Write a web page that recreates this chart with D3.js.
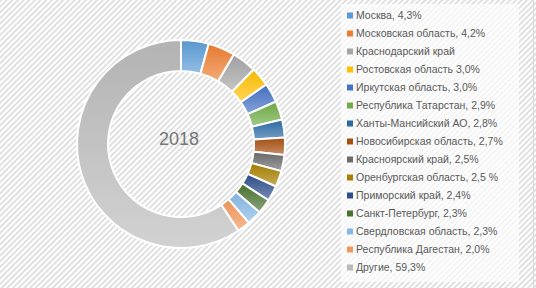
<!DOCTYPE html>
<html>
<head>
<meta charset="utf-8">
<script src="https://cdn.jsdelivr.net/npm/d3@7"></script>
<style>
  body { margin: 0; background: #fff; }
</style>
</head>
<body>
<div id="chart"></div>
<script>
const regions = ["Москва", "Московская область", "Краснодарский край", "Ростовская область",
  "Иркутская область", "Республика Татарстан", "Ханты-Мансийский АО", "Новосибирская область",
  "Красноярский край", "Оренбургская область", "Приморский край", "Санкт-Петербург",
  "Свердловская область", "Республика Дагестан", "Другие"];
const shares = [4.3, 4.2, 3.8, 3.0, 3.0, 2.9, 2.8, 2.7, 2.5, 2.5, 2.4, 2.3, 2.3, 2.0, 59.3];
// legend text as printed in the source (its punctuation is not uniform)
const legendLabels = ["Москва, 4,3%", "Московская область, 4,2%", "Краснодарский край",
  "Ростовская область 3,0%", "Иркутская область, 3,0%", "Республика Татарстан, 2,9%",
  "Ханты-Мансийский АО, 2,8%", "Новосибирская область, 2,7%", "Красноярский край, 2,5%",
  "Оренбургская область, 2,5 %", "Приморский край, 2,4%", "Санкт-Петербург, 2,3%",
  "Свердловская область, 2,3%", "Республика Дагестан, 2,0%", "Другие, 59,3%"];
const colors = ["#5b9bd5", "#ed7d31", "#a5a5a5", "#ffc000", "#4472c4", "#70ad47", "#2a6aa6",
  "#a94f12", "#6b6b6b", "#a87f00", "#2d4f8c", "#4a7330", "#86b8e4", "#f1975a", "#b9b9b9"];
const year = "2018";

const width = 536, height = 288;
const cx = 181, cy = 144, outerRadius = 104, innerRadius = 73;

const data = regions.map((r, i) => ({ region: r, value: shares[i], label: legendLabels[i] }));

const svg = d3.select("#chart").append("svg")
  .attr("width", width)
  .attr("height", height)
  .style("font-family", "'Liberation Sans', Arial, sans-serif");

const defs = svg.append("defs");

// hatched background
const pat = defs.append("pattern")
  .attr("id", "hatch")
  .attr("patternUnits", "userSpaceOnUse")
  .attr("width", 4).attr("height", 4)
  .attr("patternTransform", "rotate(45)");
pat.append("rect").attr("width", 4).attr("height", 4).attr("fill", "#ffffff");
pat.append("rect").attr("width", 1.6).attr("height", 4).attr("fill", "#d9d9d9");

// vertical gradient for every slice
defs.selectAll("linearGradient")
  .data(colors)
  .join("linearGradient")
  .attr("id", (d, i) => "g" + i)
  .attr("x1", 0).attr("y1", 0).attr("x2", 0).attr("y2", 1)
  .selectAll("stop")
  .data(c => [[0, d3.color(c).darker(0.1)], [1, d3.interpolateRgb(c, "#fff")(0.35)]])
  .join("stop")
  .attr("offset", d => d[0])
  .attr("stop-color", d => d[1]);

svg.append("rect")
  .attr("width", width).attr("height", height)
  .attr("fill", "url(#hatch)");

svg.append("line")
  .attr("x1", 533.5).attr("x2", 533.5).attr("y1", 0).attr("y2", height)
  .attr("stroke", "#d9d9d9");

const arcs = d3.pie().sort(null).value(d => d.value)(data);
const arc = d3.arc().innerRadius(innerRadius).outerRadius(outerRadius);

svg.append("g")
  .attr("transform", `translate(${cx},${cy})`)
  .attr("stroke", "white")
  .attr("stroke-width", 2)
  .selectAll("path")
  .data(arcs)
  .join("path")
  .attr("fill", (d, i) => `url(#g${i})`)
  .attr("d", arc);

svg.append("text")
  .attr("x", cx - 2)
  .attr("y", cy + 1)
  .attr("text-anchor", "middle")
  .attr("font-size", 18)
  .attr("fill", "#767676")
  .text(year);

// legend
const legendX = 347, legendY = 15.5, rowH = 18;
svg.append("rect")
  .attr("x", 341).attr("y", 4)
  .attr("width", 178).attr("height", 278)
  .attr("fill", "#fff").attr("fill-opacity", 0.65);

const item = svg.append("g")
  .selectAll("g")
  .data(data)
  .join("g")
  .attr("transform", (d, i) => `translate(${legendX},${legendY + i * rowH})`);

item.append("rect")
  .attr("x", 0).attr("y", -3)
  .attr("width", 6).attr("height", 6)
  .attr("fill", (d, i) => colors[i]);

item.append("text")
  .attr("x", 9)
  .attr("dy", "0.35em")
  .attr("font-size", 10.5)
  .attr("fill", "#595959")
  .text(d => d.label);
</script>
</body>
</html>
